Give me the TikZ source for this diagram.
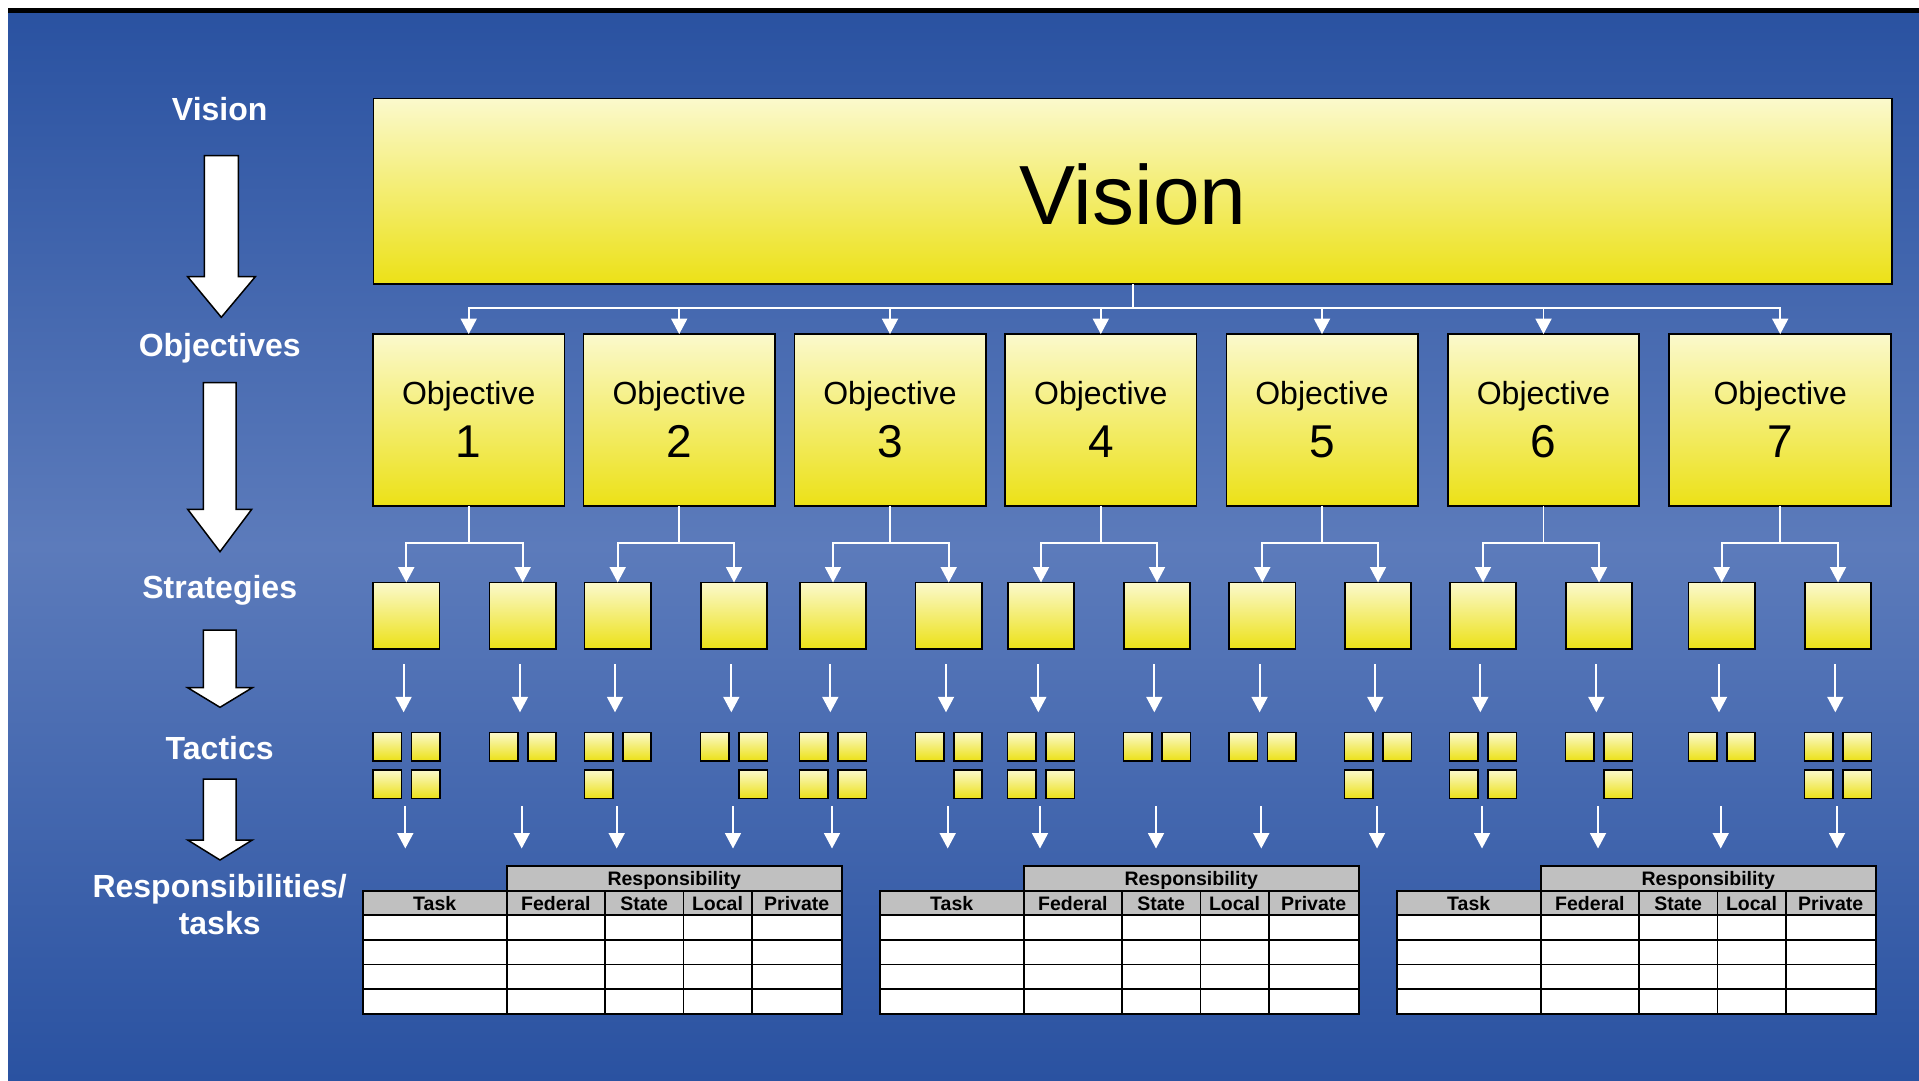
\documentclass[tikz,border=0pt]{standalone}
\usepackage{fontspec}
\setmainfont{Liberation Sans}
\usetikzlibrary{arrows.meta,calc}
\definecolor{bgdark}{RGB}{42,82,161}
\definecolor{bglight}{RGB}{92,123,187}
\definecolor{ytop}{RGB}{251,249,204}
\definecolor{ybot}{RGB}{236,225,22}
\definecolor{hdrgray}{RGB}{192,192,192}
\tikzset{
  ybox/.style={draw=black, line width=1.6pt, top color=ytop, bottom color=ybot, inner sep=0pt, outer sep=0pt},
  objbox/.style={ybox, minimum width=191.4pt, minimum height=171.8pt},
  stratbox/.style={ybox, minimum width=66.4pt, minimum height=66.4pt},
  tacbox/.style={ybox, minimum width=28.4pt, minimum height=28.4pt},
  conn/.style={draw=white, line width=1.8pt, -{Triangle[width=16pt,length=15.5pt]}},
  bigarr/.style={fill=white, draw=black, line width=1.5pt, line join=miter},
  lbl/.style={anchor=base, inner sep=0pt, text=white, font=\fontsize{32}{38}\selectfont\bfseries},
  objtxt/.style={anchor=base, inner sep=0pt, text=black, font=\fontsize{32}{38}\selectfont},
  objnum/.style={anchor=base, inner sep=0pt, text=black, font=\fontsize{46}{54}\selectfont},
  vistxt/.style={anchor=base, inner sep=0pt, text=black, font=\fontsize{84}{96}\selectfont},
  tline/.style={draw=black, line width=1.6pt},
  ttxt/.style={anchor=base, inner sep=0pt, text=black, font=\fontsize{19.5}{23}\selectfont\bfseries}
}
\begin{document}
\begin{tikzpicture}[x=1pt,y=-1pt]
\useasboundingbox (0,0) rectangle (1919,1080);
\fill[white] (0,0) rectangle (1919,1080);
\shade[top color=bgdark,bottom color=bgdark,middle color=bglight] (8,13) rectangle (1919,1080);
\fill[black] (8,8) rectangle (1919,13.3);

% left labels
\node[lbl] (lv) at (219.7,120) {Vision};
\node[lbl] (lo) at (219.7,356) {Objectives};
\node[lbl] (ls) at (219.7,598) {Strategies};
\node[lbl] (lt) at (219.7,759) {Tactics};
\node[lbl] (lr) at (219.7,897) {Responsibilities/};
\node[lbl] (lr2) at (219.7,934.3) {tasks};

% big arrows
\draw[bigarr] (204.3,155.7) -- (238.3,155.7) -- (238.3,276.7) -- (255.3,276.7) -- (221.3,317.3) -- (187.7,276.7) -- (204.3,276.7) -- cycle;
\draw[bigarr] (203.3,382.7) -- (236,382.7) -- (236,509.3) -- (251.7,509.3) -- (220,551.7) -- (187.7,509.3) -- (203.3,509.3) -- cycle;
\draw[bigarr] (203.3,630) -- (236,630) -- (236,687.7) -- (252.3,687.7) -- (220,707.3) -- (187.7,687.7) -- (203.3,687.7) -- cycle;
\draw[bigarr] (203.3,779) -- (236,779) -- (236,840) -- (252.3,840) -- (220,860) -- (187.7,840) -- (203.3,840) -- cycle;

% vision
\node[ybox, minimum width=1518.7pt, minimum height=185.7pt] (vis) at (1132.9,191.35) {};
\node[vistxt] (vist) at (1133,224) {Vision};

% objectives
\foreach \i/\cx in {1/468.7,2/679.2,3/890,4/1100.8,5/1322,6/1543.5} {
  \node[objbox] (o\i) at (\cx,420) {};
}
\node[objbox, minimum width=222pt] (o7) at (1780.2,420) {};
\foreach \i in {1,...,7} {
  \node[objtxt] (ot\i) at ($(o\i.center)+(0,-15.7)$) {Objective};
  \node[objnum] (on\i) at ($(o\i.center)+(0,37.3)$) {\i};
  \draw[conn] (vis.south) -- ++(0,24) -| (o\i.north);
}

% strategies and tactics
\foreach \i/\k/\cx/\pa/\pb/\pc/\pd in {
  1/1/406.3/1/1/1/1, 2/1/522.7/1/1/0/0,
  3/2/617.7/1/1/1/0, 4/2/734/1/1/0/1,
  5/3/833/1/1/1/1, 6/3/948.7/1/1/0/1,
  7/4/1041/1/1/1/1, 8/4/1157/1/1/0/0,
  9/5/1262.3/1/1/0/0, 10/5/1378/1/1/1/0,
  11/6/1483/1/1/1/1, 12/6/1599/1/1/0/1,
  13/7/1721.7/1/1/0/0, 14/7/1838/1/1/1/1} {
  \node[stratbox] (s\i) at (\cx,615.7) {};
  \draw[conn] (o\k.south) -- ++(0,37) -| (s\i.north);
  \coordinate (ua\i) at (\cx-2.7,664);
  \coordinate (ub\i) at (\cx-2.7,712.3);
  \draw[conn] (ua\i) -- (ub\i);
  \ifnum\pa=1 \node[tacbox] (t\i-1) at (\cx-19.2,746.5) {};\fi
  \ifnum\pb=1 \node[tacbox] (t\i-2) at (\cx+19.2,746.5) {};\fi
  \ifnum\pc=1 \node[tacbox] (t\i-3) at (\cx-19.2,784.3) {};\fi
  \ifnum\pd=1 \node[tacbox] (t\i-4) at (\cx+19.2,784.3) {};\fi
  \coordinate (la\i) at (\cx-1,806.3);
  \coordinate (lb\i) at (\cx-1,848.5);
  \draw[conn] (la\i) -- (lb\i);
}

% tables
\foreach \L/\n in {362.7/1,879.7/2,1396.7/3} {
  \fill[hdrgray] (\L+144,865.7) rectangle (\L+479,890.7);
  \fill[hdrgray] (\L,890.7) rectangle (\L+479,915);
  \fill[white] (\L,915) rectangle (\L+479,1014);
  \draw[tline] (\L+144,865.7) rectangle (\L+479,1014);
  \draw[tline] (\L,890.7) rectangle (\L+479,1014);
  \foreach \yy in {915,939.8,964.5,989.2} {
    \draw[tline] (\L,\yy) -- (\L+479,\yy);
  }
  \foreach \xx in {242.3,320.6,389} {
    \draw[tline] (\L+\xx,890.7) -- (\L+\xx,1014);
  }
  \node[ttxt] (rsp\n) at (\L+311.5,885.7) {Responsibility};
  \node[ttxt] (tsk\n) at (\L+72,910.7) {Task};
  \node[ttxt] (fed\n) at (\L+193.2,910.7) {Federal};
  \node[ttxt] (sta\n) at (\L+281.5,910.7) {State};
  \node[ttxt] (loc\n) at (\L+354.8,910.7) {Local};
  \node[ttxt] (pri\n) at (\L+434,910.7) {Private};
}
\end{tikzpicture}
\end{document}
